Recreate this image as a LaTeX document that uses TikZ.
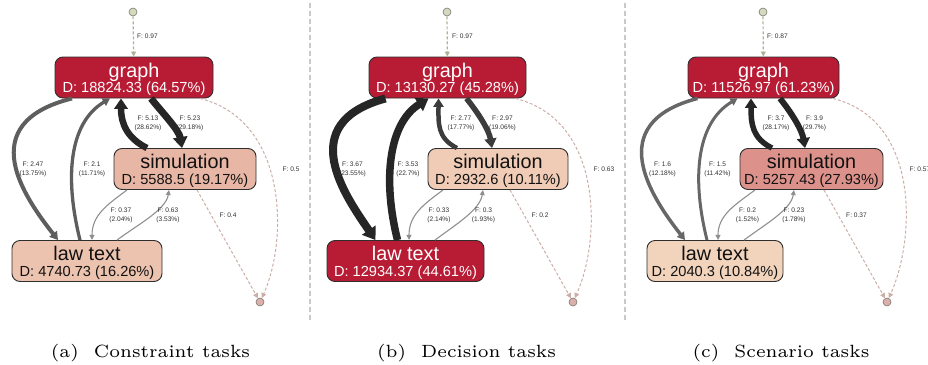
\documentclass[tikz,border=0pt]{standalone}
\usepackage{fontspec}
\usepackage{graphicx}
\usetikzlibrary{arrows.meta}
\newfontfamily\labfont{Liberation Sans}

\definecolor{crimson}{HTML}{B81C35}
\definecolor{simA}{HTML}{E8B6A4}
\definecolor{lawA}{HTML}{ECC3AF}
\definecolor{simB}{HTML}{F0CBB5}
\definecolor{simC}{HTML}{DC918A}
\definecolor{lawC}{HTML}{F2D4BD}
\definecolor{boxline}{HTML}{2E2E2E}
\definecolor{flowblack}{HTML}{262626}
\definecolor{flowdark}{HTML}{3C3C3C}
\definecolor{flowgray}{HTML}{5E5E5E}
\definecolor{flowgrayC}{HTML}{676767}
\definecolor{thinflow}{HTML}{8F8F8F}
\definecolor{startline}{HTML}{A9B592}
\definecolor{endline}{HTML}{CBAEA8}
\definecolor{startfill}{HTML}{D3DABD}
\definecolor{endfill}{HTML}{DCAFAB}
\definecolor{dotline}{HTML}{7A7A72}
\definecolor{labtext}{HTML}{303030}
\definecolor{divline}{HTML}{C9C9C9}
\definecolor{darktext}{HTML}{111111}

\tikzset{
  taskbox/.style={draw=boxline, line width=0.9pt, rounded corners=8pt,
    minimum height=41pt, inner sep=0pt},
  tasktitle/.style={font=\labfont\fontsize{19.8}{20}\selectfont, anchor=base, inner sep=0pt},
  taskdur/.style={font=\labfont\fontsize{14.6}{15}\selectfont, anchor=base, inner sep=0pt},
  flowlabel/.style={font=\labfont\fontsize{6.6}{9}\selectfont, align=center,
    inner sep=0pt, text=labtext},
  startdot/.style={circle, draw=dotline, line width=0.6pt, fill=startfill,
    minimum size=8pt, inner sep=0pt},
  enddot/.style={circle, draw=dotline, line width=0.6pt, fill=endfill,
    minimum size=8pt, inner sep=0pt},
  flow/.style={line width=#1, -{Triangle[length=4pt 1.0, width=3pt 1.6]}},
  startflow/.style={draw=startline, line width=1.2pt, dash pattern=on 3pt off 2pt,
    -{Triangle[length=5pt, width=5pt]}},
  endflow/.style={draw=endline, line width=1pt, dash pattern=on 3pt off 2pt,
    -{Triangle[length=5pt, width=5pt]}},
  divider/.style={draw=divline, line width=1.3pt, dash pattern=on 5pt off 3pt},
  subcap/.style={anchor=base, inner sep=0pt},
}
\newcommand\subcaptext[2]{\scalebox{2.95}{\fontsize{6}{7}\selectfont (#1)\hspace{0.85em}#2}}

\begin{document}
\begin{tikzpicture}[x=1pt, y=-1pt]
\useasboundingbox (0,0) rectangle (928,364);

% separators between the three panels
\draw[divider] (310,3) -- (310,322);
\draw[divider] (625,3) -- (625,322);

% ---------------- (a) Constraint tasks ----------------
\begin{scope}
\node[startdot] (s0a) at (133,12) {};
\node[taskbox, fill=crimson, minimum width=158pt] (ga) at (134,77.5) {};
\node[tasktitle, text=white] (gta) at ([yshift=-20.5pt]ga.north) {graph};
\node[taskdur, text=white] (gda) at ([yshift=-36.3pt]ga.north) {D: 18824.33 (64.57\%)};
\node[taskbox, fill=simA, minimum width=142pt] (sa) at (185,169) {};
\node[tasktitle, text=darktext] (sta) at ([yshift=-20.5pt]sa.north) {simulation};
\node[taskdur, text=darktext] (sda) at ([yshift=-36.3pt]sa.north) {D: 5588.5 (19.17\%)};
\node[taskbox, fill=lawA, minimum width=150pt] (la) at (87,261) {};
\node[tasktitle, text=darktext] (lta) at ([yshift=-20.5pt]la.north) {law text};
\node[taskdur, text=darktext] (lda) at ([yshift=-36.3pt]la.north) {D: 4740.73 (16.26\%)};
\node[enddot] (ea) at (260,302) {};

\draw[startflow] (s0a) -- (ga);
\draw[flow=4pt, draw=flowgray] ([xshift=-62pt]ga.south) .. controls +(-100,25) and +(-33,-42) .. ([xshift=-29pt]la.north);
\draw[flow=3.3pt, draw=flowgray] ([xshift=-7pt]la.north) .. controls +(-15,-60) and +(-42,25) .. ([xshift=-24pt]ga.south);
\draw[flow=7pt, draw=flowblack] ([xshift=17pt]ga.south) .. controls +(12,15) and +(-3,-18) .. ([xshift=-3pt]sa.north);
\draw[flow=6.5pt, draw=flowblack] ([xshift=-38pt]sa.north) .. controls +(-20,-10) and +(0,25) .. ([xshift=-13pt]ga.south);
\draw[flow=1.1pt, draw=thinflow] ([xshift=-58pt]sa.south) .. controls +(-20,15) and +(0,-25) .. ([xshift=5pt]la.north);
\draw[flow=1.1pt, draw=thinflow] ([xshift=30pt]la.north) .. controls +(20,-15) and +(-3,20) .. ([xshift=-16pt]sa.south);
\draw[endflow] ([xshift=12pt]sa.south) -- (ea);
\draw[endflow] ([xshift=66pt]ga.south) .. controls +(88,22) and +(28,-62) .. (ea);

\node[flowlabel, anchor=west] (f0a) at (137,36) {F: 0.97};
\node[flowlabel] (f1a) at (33,169) {F: 2.47\\(13.75\%)};
\node[flowlabel] (f2a) at (92,169) {F: 2.1\\(11.71\%)};
\node[flowlabel] (f3a) at (190,123) {F: 5.23\\(29.18\%)};
\node[flowlabel] (f4a) at (148,123) {F: 5.13\\(28.62\%)};
\node[flowlabel] (f5a) at (121,215) {F: 0.37\\(2.04\%)};
\node[flowlabel] (f6a) at (168,215) {F: 0.63\\(3.53\%)};
\node[flowlabel] (f7a) at (228,215) {F: 0.4};
\node[flowlabel] (f8a) at (291,169) {F: 0.5};

\node[subcap] (capa) at (150.5,357) {\subcaptext{a}{Constraint tasks}};
\end{scope}

% ---------------- (b) Decision tasks ----------------
\begin{scope}[xshift=313pt]
\node[startdot] (s0b) at (134,12) {};
\node[taskbox, fill=crimson, minimum width=157pt] (gb) at (134.5,77.5) {};
\node[tasktitle, text=white] (gtb) at ([yshift=-20.5pt]gb.north) {graph};
\node[taskdur, text=white] (gdb) at ([yshift=-36.3pt]gb.north) {D: 13130.27 (45.28\%)};
\node[taskbox, fill=simB, minimum width=140pt] (sb) at (185,169) {};
\node[tasktitle, text=darktext] (stb) at ([yshift=-20.5pt]sb.north) {simulation};
\node[taskdur, text=darktext] (sdb) at ([yshift=-36.3pt]sb.north) {D: 2932.6 (10.11\%)};
\node[taskbox, fill=crimson, minimum width=157pt] (lb) at (92.5,261) {};
\node[tasktitle, text=white] (ltb) at ([yshift=-20.5pt]lb.north) {law text};
\node[taskdur, text=white] (ldb) at ([yshift=-36.3pt]lb.north) {D: 12934.37 (44.61\%)};
\node[enddot] (eb) at (260,302) {};

\draw[startflow] (s0b) -- (gb);
\draw[flow=8pt, draw=flowblack] ([xshift=-62pt]gb.south) .. controls +(-92,25) and +(-30,-44) .. ([xshift=-30pt]lb.north);
\draw[flow=7.5pt, draw=flowblack] ([xshift=-8pt]lb.north) .. controls +(-15,-60) and +(-40,25) .. ([xshift=-19pt]gb.south);
\draw[flow=5.5pt, draw=flowdark] ([xshift=19pt]gb.south) .. controls +(12,15) and +(-3,-18) .. ([xshift=-6pt]sb.north);
\draw[flow=4.5pt, draw=flowdark] ([xshift=-41pt]sb.north) .. controls +(-20,-10) and +(0,25) .. ([xshift=-9pt]gb.south);
\draw[flow=1.1pt, draw=thinflow] ([xshift=-55pt]sb.south) .. controls +(-20,15) and +(0,-25) .. ([xshift=3.5pt]lb.north);
\draw[flow=1.1pt, draw=thinflow] ([xshift=29.5pt]lb.north) .. controls +(20,-15) and +(-3,20) .. ([xshift=-15pt]sb.south);
\draw[endflow] ([xshift=12pt]sb.south) -- (eb);
\draw[endflow] ([xshift=68pt]gb.south) .. controls +(88,22) and +(28,-62) .. (eb);

\node[flowlabel, anchor=west] (f0b) at (139,36) {F: 0.97};
\node[flowlabel] (f1b) at (39.5,169) {F: 3.67\\(23.55\%)};
\node[flowlabel] (f2b) at (95,169) {F: 3.53\\(22.7\%)};
\node[flowlabel] (f3b) at (189.5,123) {F: 2.97\\(19.06\%)};
\node[flowlabel] (f4b) at (148,123) {F: 2.77\\(17.77\%)};
\node[flowlabel] (f5b) at (126,215) {F: 0.33\\(2.14\%)};
\node[flowlabel] (f6b) at (170.5,215) {F: 0.3\\(1.93\%)};
\node[flowlabel] (f7b) at (227,215) {F: 0.2};
\node[flowlabel] (f8b) at (291,169) {F: 0.63};

\node[subcap] (capb) at (153.5,357) {\subcaptext{b}{Decision tasks}};
\end{scope}

% ---------------- (c) Scenario tasks ----------------
\begin{scope}[xshift=629pt]
\node[startdot] (s0c) at (134,12) {};
\node[taskbox, fill=crimson, minimum width=151pt] (gc) at (134.5,77.5) {};
\node[tasktitle, text=white] (gtc) at ([yshift=-20.5pt]gc.north) {graph};
\node[taskdur, text=white] (gdc) at ([yshift=-36.3pt]gc.north) {D: 11526.97 (61.23\%)};
\node[taskbox, fill=simC, minimum width=143pt] (sc) at (182.5,169) {};
\node[tasktitle, text=darktext] (stc) at ([yshift=-20.5pt]sc.north) {simulation};
\node[taskdur, text=darktext] (sdc) at ([yshift=-36.3pt]sc.north) {D: 5257.43 (27.93\%)};
\node[taskbox, fill=lawC, minimum width=136pt] (lc) at (86,261) {};
\node[tasktitle, text=darktext] (ltc) at ([yshift=-20.5pt]lc.north) {law text};
\node[taskdur, text=darktext] (ldc) at ([yshift=-36.3pt]lc.north) {D: 2040.3 (10.84\%)};
\node[enddot] (ec) at (258,302) {};

\draw[startflow] (s0c) -- (gc);
\draw[flow=3.5pt, draw=flowgrayC] ([xshift=-66pt]gc.south) .. controls +(-96,25) and +(-33,-42) .. ([xshift=-30pt]lc.north);
\draw[flow=3pt, draw=flowgrayC] ([xshift=-8pt]lc.north) .. controls +(-15,-60) and +(-42,25) .. ([xshift=-26pt]gc.south);
\draw[flow=6pt, draw=flowblack] ([xshift=16.5pt]gc.south) .. controls +(12,15) and +(-3,-18) .. ([xshift=-6.5pt]sc.north);
\draw[flow=5.5pt, draw=flowblack] ([xshift=-39.5pt]sc.north) .. controls +(-20,-10) and +(0,25) .. ([xshift=-12.5pt]gc.south);
\draw[flow=1.1pt, draw=thinflow] ([xshift=-56.5pt]sc.south) .. controls +(-20,15) and +(0,-25) .. ([xshift=3pt]lc.north);
\draw[flow=1.1pt, draw=thinflow] ([xshift=29pt]lc.north) .. controls +(20,-15) and +(-3,20) .. ([xshift=-17.5pt]sc.south);
\draw[endflow] ([xshift=12.5pt]sc.south) -- (ec);
\draw[endflow] ([xshift=69.5pt]gc.south) .. controls +(88,22) and +(28,-62) .. (ec);

\node[flowlabel, anchor=west] (f0c) at (138,36) {F: 0.87};
\node[flowlabel] (f1c) at (33.5,169) {F: 1.6\\(12.18\%)};
\node[flowlabel] (f2c) at (88.5,169) {F: 1.5\\(11.42\%)};
\node[flowlabel] (f3c) at (185.5,123) {F: 3.9\\(29.7\%)};
\node[flowlabel] (f4c) at (147,123) {F: 3.7\\(28.17\%)};
\node[flowlabel] (f5c) at (118.5,215) {F: 0.2\\(1.52\%)};
\node[flowlabel] (f6c) at (165,215) {F: 0.23\\(1.78\%)};
\node[flowlabel] (f7c) at (227.5,215) {F: 0.37};
\node[flowlabel] (f8c) at (291,169) {F: 0.57};

\node[subcap] (capc) at (152,357) {\subcaptext{c}{Scenario tasks}};
\end{scope}
\end{tikzpicture}
\end{document}
